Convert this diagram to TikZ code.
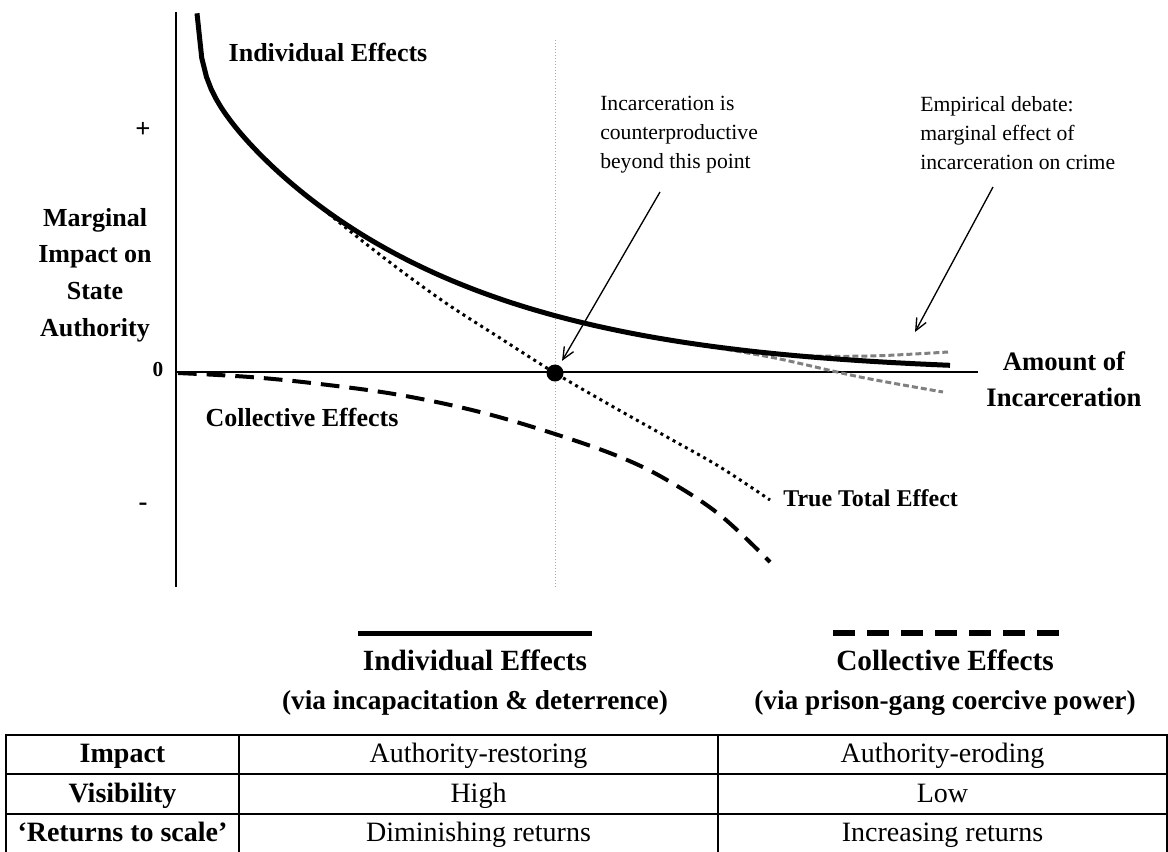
\documentclass[tikz,border=0pt]{standalone}
\usepackage{fontspec}
\setmainfont{Liberation Serif}
\usepackage{tikz}
\usetikzlibrary{arrows.meta,positioning}
\definecolor{ink}{HTML}{000000}
\definecolor{guidegray}{HTML}{A8A8A8}
\definecolor{debategray}{HTML}{808080}

\begin{document}
\begin{tikzpicture}[x=0.75pt,y=-0.75pt,
    axis/.style={draw=ink, line width=1.5pt},
    indiv/.style={draw=ink, line width=3.75pt},
    coll/.style={draw=ink, line width=3pt, dash pattern=on 14pt off 7.5pt},
    total/.style={draw=ink, line width=2.25pt, dash pattern=on 2.25pt off 3pt},
    debate/.style={draw=debategray, line width=2.25pt, dash pattern=on 4.5pt off 2.25pt},
    guide/.style={draw=guidegray, line width=0.75pt, dash pattern=on 0.75pt off 1.5pt},
    pointer/.style={draw=ink, line width=1pt, -{Straight Barb[length=9pt,width=8pt]}},
    curvelabel/.style={font=\fontsize{19.5}{23}\selectfont\bfseries, inner sep=0pt, anchor=mid},
    axislabel/.style={font=\fontsize{19.5}{27.5}\selectfont\bfseries, align=center, inner sep=0pt},
    note/.style={font=\fontsize{16.25}{21.75}\selectfont, align=left, inner sep=0pt, anchor=north west},
    legtitle/.style={font=\fontsize{22}{26}\selectfont\bfseries, inner sep=0pt, anchor=mid},
    legsub/.style={font=\fontsize{20.5}{24}\selectfont\bfseries, inner sep=0pt},
    cell/.style={font=\fontsize{21}{25}\selectfont, inner sep=0pt, anchor=base},
    headcell/.style={cell, font=\fontsize{21}{25}\selectfont\bfseries},
    rule/.style={draw=ink, line width=1.1pt},
]
\useasboundingbox (0,0) rectangle (1168,851);

\draw[guide] (555,40) -- (555,587);

\coordinate (top) at (176,12);
\coordinate (bottom) at (176,587);
\coordinate (origin) at (176,372);
\coordinate (xend) at (978,372);
\draw[axis] (top) -- (bottom);
\draw[axis] (origin) -- (xend);

\node[font=\fontsize{20}{24}\selectfont\bfseries] (plus) at (143,130) {+};
\node[font=\fontsize{16}{20}\selectfont\bfseries] (zero) at (158,370) {0};
\node[font=\fontsize{20}{24}\selectfont\bfseries] (minus) at (143,507) {-};
\node[axislabel] (ylabel) at (95,275) {Marginal\\Impact on\\State\\Authority};
\node[axislabel, font=\fontsize{20}{27}\selectfont\bfseries] (xlabel) at (1064,379) {Amount of\\Incarceration};

\draw[coll] plot[smooth, tension=0.6] coordinates {(178,373) (250,377) (320,384) (400,395) (480,412) (555,434) (620,457) (667,480) (720,515) (770,562)};
\draw[debate] plot[smooth] coordinates {(700,345) (790,355) (870,356) (948,352)};
\draw[debate] plot[smooth] coordinates {(700,345) (775,358) (860,377) (943,392)};
\draw[total] plot[smooth, tension=0.6] coordinates {(285,178) (370,247) (440,299) (500,338) (555,373) (610,405) (667,437) (720,467) (770,500)};
\draw[indiv] plot[domain=197:950, samples=160] (\x, {372 - 300*exp(-(\x-180)/230 - ((\x-180)/950)^3) - 400/(\x-192)});

\node[circle, fill=ink, inner sep=0pt, minimum size=12.75pt] (cross) at (555,373) {};

\node[curvelabel] (indlabel) at (328,58) {Individual Effects};
\node[curvelabel] (colllabel) at (302,423) {Collective Effects};
\node[curvelabel, font=\fontsize{18}{22}\selectfont\bfseries, anchor=mid west] (totallabel) at (783,503) {True Total Effect};

\node[note] (note1) at (600,96) {Incarceration is\\counterproductive\\beyond this point};
\node[note] (note2) at (920,96) {Empirical debate:\\marginal effect of\\incarceration on crime};
\coordinate (tail1) at (660,192);
\coordinate (tail2) at (993,187);
\coordinate (debatept) at (915,332);
\draw[pointer, shorten >=4pt] (tail1) -- (cross);
\draw[pointer] (tail2) -- (debatept);

\draw[indiv] (358,633) -- (592,633);
\draw[draw=ink, line width=4pt, dash pattern=on 16.5pt off 9pt] (833,633) -- (1062,633);
\node[legtitle] (indtitle) at (475,667) {Individual Effects};
\node[legsub, below=15pt of indtitle] (indsub) {(via incapacitation \& deterrence)};
\node[legtitle] (colltitle) at (945,667) {Collective Effects};
\node[legsub, below=15pt of colltitle] (collsub) {(via prison-gang coercive power)};

\draw[rule] (6,735) rectangle (1167,853);
\foreach \yy in {774,814} \draw[rule] (6,\yy) -- (1167,\yy);
\foreach \xx in {239,718} \draw[rule] (\xx,735) -- (\xx,853);
\foreach \yy/\head/\ind/\coll [count=\r] in {762.5/Impact/Authority-restoring/Authority-eroding, 802/Visibility/High/Low, 841.5/{`Returns to scale'}/Diminishing returns/Increasing returns}{
  \node[headcell] (head\r) at (122.5,\yy) {\head};
  \node[cell] (ind\r) at (478.5,\yy) {\ind};
  \node[cell] (coll\r) at (942.5,\yy) {\coll};
}
\end{tikzpicture}
\end{document}
